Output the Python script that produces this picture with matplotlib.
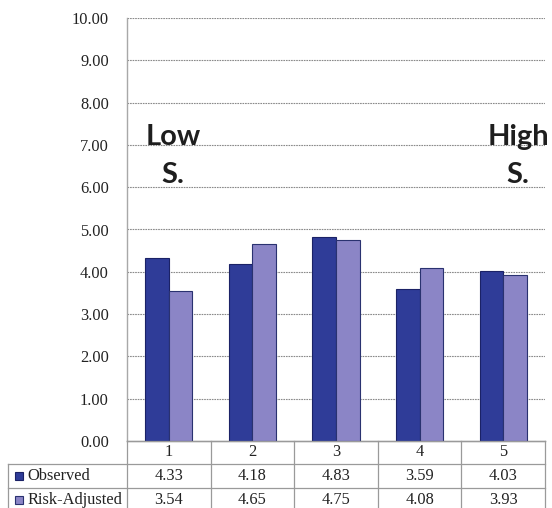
import matplotlib
matplotlib.use("Agg")
import matplotlib.pyplot as plt
from matplotlib.patches import Rectangle
from matplotlib.lines import Line2D

categories = ["1", "2", "3", "4", "5"]
observed = [4.33, 4.18, 4.83, 3.59, 4.03]
risk_adjusted = [3.54, 4.65, 4.75, 4.08, 3.93]
series_names = ["Observed", "Risk-Adjusted"]
y_ticks = [0, 1, 2, 3, 4, 5, 6, 7, 8, 9, 10]

W, H = 552, 508
fig = plt.figure(figsize=(W / 100, H / 100), dpi=100)
fig.patch.set_facecolor("white")

serif = ["Liberation Serif", "DejaVu Serif"]
obs_color, obs_edge = "#2F3C98", "#1B2266"
adj_color, adj_edge = "#8B85C6", "#2A3270"
grid_color = "#9a9a9a"

# plot area in pixel coordinates (from the top-left)
px_left, px_right, px_top, px_bottom = 127, 545, 18, 441
ax = fig.add_axes([px_left / W, 1 - px_bottom / H,
                   (px_right - px_left) / W, (px_bottom - px_top) / H])

n = len(categories)
x = list(range(n))
bw = 0.283
ax.bar([i - bw / 2 for i in x], observed, width=bw, color=obs_color,
       edgecolor=obs_edge, linewidth=0.8, zorder=3)
ax.bar([i + bw / 2 for i in x], risk_adjusted, width=bw, color=adj_color,
       edgecolor=adj_edge, linewidth=0.8, zorder=3)

ax.set_xlim(-0.5, n - 0.5)
ax.set_ylim(0, 10)
ax.set_yticks(y_ticks)
ax.set_yticklabels([f"{v:.2f}" for v in y_ticks], fontfamily=serif, fontsize=11.8)
ax.tick_params(axis="y", length=0, pad=13, colors="#222222")
ax.set_xticks([])
for v in y_ticks[1:]:
    ax.axhline(v, color="#8a8a8a", linewidth=0.8, linestyle=(0, (1.5, 0.8)), zorder=1)
for side in ["top", "right"]:
    ax.spines[side].set_visible(False)
ax.spines["left"].set_color("#a8a8a8")
ax.spines["bottom"].set_color(grid_color)
ax.spines["left"].set_linewidth(1.0)
ax.spines["bottom"].set_linewidth(1.0)

# annotations above the bars
label_kw = dict(fontfamily=["Lato", "DejaVu Sans"], fontweight="bold",
                fontsize=21, color="#1e1e1e", ha="center", va="baseline")
ax.text(0.05, 7.0, "Low", **label_kw)
ax.text(0.05, 6.1, "S.", **label_kw)
ax.text(4.18, 7.0, "High", **label_kw)
ax.text(4.18, 6.1, "S.", **label_kw)

# data table below the axis, drawn in figure pixel coordinates
def fx(px):
    return px / W

def fy(py):
    return 1 - py / H

col_edges = [px_left + (px_right - px_left) * k / n for k in range(n + 1)]
row_edges = [px_bottom, 463.5, 487.5, 511.5]
table_left = 8
line_kw = dict(color=grid_color, linewidth=0.9, transform=fig.transFigure)

# horizontal lines
fig.add_artist(Line2D([fx(px_left), fx(px_right)], [fy(row_edges[0])] * 2, **line_kw))
for r in row_edges[1:]:
    fig.add_artist(Line2D([fx(table_left), fx(px_right)], [fy(r)] * 2, **line_kw))
# vertical lines
for c in col_edges:
    fig.add_artist(Line2D([fx(c)] * 2, [fy(row_edges[0]), fy(row_edges[-1])], **line_kw))
fig.add_artist(Line2D([fx(table_left)] * 2, [fy(row_edges[1]), fy(row_edges[-1])], **line_kw))

txt_kw = dict(fontfamily=serif, fontsize=11.8, color="#222222", va="center",
              transform=fig.transFigure)
centers = [(col_edges[k] + col_edges[k + 1]) / 2 for k in range(n)]
row_mid = [(row_edges[k] + row_edges[k + 1]) / 2 for k in range(3)]
for k, cat in enumerate(categories):
    fig.text(fx(centers[k]), fy(row_mid[0]), cat, ha="center", **txt_kw)
for r, (name, vals, fc, ec) in enumerate([
        (series_names[0], observed, obs_color, obs_edge),
        (series_names[1], risk_adjusted, adj_color, adj_edge)]):
    ym = row_mid[r + 1]
    fig.add_artist(Rectangle((fx(15), fy(ym + 4)), 8 / W, 8 / H, facecolor=fc,
                             edgecolor=ec, linewidth=0.8, transform=fig.transFigure))
    fig.text(fx(27), fy(ym), name, ha="left", **txt_kw)
    for k, v in enumerate(vals):
        fig.text(fx(centers[k]), fy(ym), f"{v:.2f}", ha="center", **txt_kw)

fig.savefig("out.png", dpi=100, facecolor="white")
